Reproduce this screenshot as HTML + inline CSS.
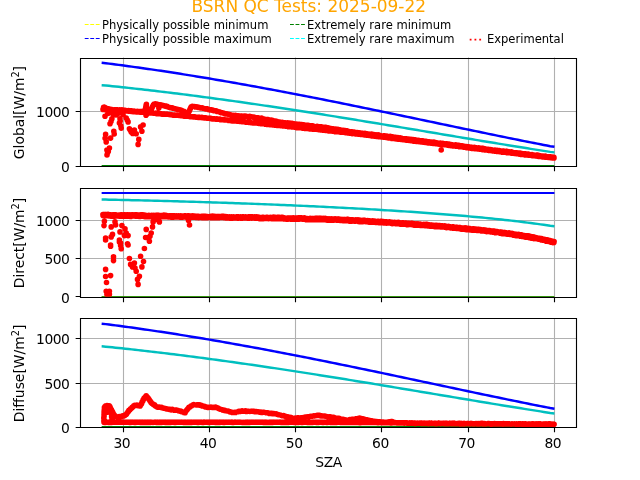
<!DOCTYPE html>
<html lang="en"><head><meta charset="utf-8"><title>BSRN QC Tests: 2025-09-22</title>
<style>html,body{margin:0;padding:0;background:#fff;overflow:hidden}svg{display:block}#w{will-change:transform;width:640px;height:480px}text{font-family:"DejaVu Sans","Liberation Sans",sans-serif}</style></head><body>
<div id="w">
<svg width="640" height="480" viewBox="0 0 640 480">
<rect width="640" height="480" fill="#fff"/>
<defs><clipPath id="c0"><rect x="80.0" y="57.60" width="496.0" height="108.71"/></clipPath><clipPath id="c1"><rect x="80.0" y="188.05" width="496.0" height="108.71"/></clipPath><clipPath id="c2"><rect x="80.0" y="318.49" width="496.0" height="108.71"/></clipPath></defs>
<path d="M123.5 57.60V166.31M209.5 57.60V166.31M295.5 57.60V166.31M381.5 57.60V166.31M468.5 57.60V166.31M554.5 57.60V166.31M80.0 166.5H576.0M80.0 111.5H576.0" stroke="#b0b0b0" stroke-width="1.111" fill="none"/>
<g clip-path="url(#c0)" fill="none" stroke-width="2.450" stroke-linecap="butt">
<path d="M101.64 167.00L554.45 167.00" stroke="#bfbf00" stroke-width="2.083"/>
<path d="M101.64 62.81L105.79 63.22L109.03 63.63L112.27 64.04L115.52 64.46L118.76 64.89L122.01 65.32L125.25 65.76L128.49 66.19L131.74 66.64L134.98 67.09L138.23 67.54L141.47 68.00L144.71 68.46L147.96 68.93L151.20 69.40L154.45 69.87L157.69 70.35L160.93 70.83L164.18 71.32L167.42 71.81L170.67 72.31L173.91 72.81L177.15 73.31L180.40 73.82L183.64 74.34L186.89 74.85L190.13 75.37L193.37 75.90L196.62 76.42L199.86 76.96L203.11 77.49L206.35 78.03L209.59 78.57L212.84 79.12L216.08 79.67L219.33 80.22L222.57 80.78L225.81 81.34L229.06 81.91L232.30 82.47L235.54 83.04L238.79 83.62L242.03 84.20L245.28 84.78L248.52 85.36L251.76 85.95L255.01 86.54L258.25 87.13L261.50 87.73L264.74 88.33L267.98 88.93L271.23 89.53L274.47 90.14L277.72 90.75L280.96 91.37L284.20 91.98L287.45 92.60L290.69 93.22L293.94 93.85L297.18 94.47L300.42 95.10L303.67 95.73L306.91 96.37L310.16 97.00L313.40 97.64L316.64 98.28L319.89 98.92L323.13 99.57L326.38 100.21L329.62 100.86L332.86 101.51L336.11 102.16L339.35 102.82L342.60 103.47L345.84 104.13L349.08 104.79L352.33 105.45L355.57 106.11L358.81 106.78L362.06 107.44L365.30 108.11L368.55 108.78L371.79 109.45L375.03 110.12L378.28 110.79L381.52 111.46L384.77 112.14L388.01 112.81L391.25 113.49L394.50 114.16L397.74 114.84L400.99 115.52L404.23 116.20L407.47 116.87L410.72 117.55L413.96 118.23L417.21 118.91L420.45 119.60L423.69 120.28L426.94 120.96L430.18 121.64L433.43 122.32L436.67 123.00L439.91 123.68L443.16 124.36L446.40 125.04L449.65 125.72L452.89 126.40L456.13 127.08L459.38 127.76L462.62 128.44L465.87 129.12L469.11 129.80L472.35 130.47L475.60 131.15L478.84 131.82L482.09 132.49L485.33 133.17L488.57 133.84L491.82 134.51L495.06 135.17L498.30 135.84L501.55 136.50L504.79 137.17L508.04 137.83L511.28 138.49L514.52 139.14L517.77 139.80L521.01 140.45L524.26 141.10L527.50 141.75L530.74 142.39L533.99 143.03L537.23 143.67L540.48 144.31L543.72 144.94L546.96 145.57L550.21 146.19L554.45 146.82" stroke="#0000ff"/>
<path d="M101.64 166.00L554.45 166.00" stroke="#008000" stroke-width="2.083"/>
<path d="M101.64 85.18L105.79 85.50L109.03 85.83L112.27 86.17L115.52 86.50L118.76 86.84L122.01 87.19L125.25 87.53L128.49 87.89L131.74 88.24L134.98 88.60L138.23 88.96L141.47 89.33L144.71 89.70L147.96 90.07L151.20 90.45L154.45 90.83L157.69 91.21L160.93 91.60L164.18 91.99L167.42 92.38L170.67 92.78L173.91 93.18L177.15 93.58L180.40 93.99L183.64 94.40L186.89 94.81L190.13 95.23L193.37 95.65L196.62 96.07L199.86 96.49L203.11 96.92L206.35 97.35L209.59 97.79L212.84 98.23L216.08 98.67L219.33 99.11L222.57 99.56L225.81 100.00L229.06 100.46L232.30 100.91L235.54 101.37L238.79 101.83L242.03 102.29L245.28 102.75L248.52 103.22L251.76 103.69L255.01 104.16L258.25 104.64L261.50 105.11L264.74 105.59L267.98 106.07L271.23 106.56L274.47 107.04L277.72 107.53L280.96 108.02L284.20 108.52L287.45 109.01L290.69 109.51L293.94 110.01L297.18 110.51L300.42 111.01L303.67 111.52L306.91 112.02L310.16 112.53L313.40 113.04L316.64 113.56L319.89 114.07L323.13 114.58L326.38 115.10L329.62 115.62L332.86 116.14L336.11 116.66L339.35 117.19L342.60 117.71L345.84 118.24L349.08 118.76L352.33 119.29L355.57 119.82L358.81 120.35L362.06 120.89L365.30 121.42L368.55 121.95L371.79 122.49L375.03 123.03L378.28 123.56L381.52 124.10L384.77 124.64L388.01 125.18L391.25 125.72L394.50 126.26L397.74 126.80L400.99 127.34L404.23 127.89L407.47 128.43L410.72 128.97L413.96 129.52L417.21 130.06L420.45 130.61L423.69 131.15L426.94 131.70L430.18 132.24L433.43 132.79L436.67 133.33L439.91 133.88L443.16 134.42L446.40 134.97L449.65 135.51L452.89 136.05L456.13 136.60L459.38 137.14L462.62 137.68L465.87 138.23L469.11 138.77L472.35 139.31L475.60 139.85L478.84 140.39L482.09 140.93L485.33 141.46L488.57 142.00L491.82 142.54L495.06 143.07L498.30 143.60L501.55 144.13L504.79 144.66L508.04 145.19L511.28 145.72L514.52 146.25L517.77 146.77L521.01 147.29L524.26 147.81L527.50 148.33L530.74 148.84L533.99 149.36L537.23 149.87L540.48 150.38L543.72 150.88L546.96 151.39L550.21 151.89L554.45 152.38" stroke="#00bfbf"/>
<path d="M103.6 107.3h.01M104.7 107.4h.01M105.7 108.1h.01M106.6 108.2h.01M107.7 108.7h.01M108.7 108.8h.01M109.9 109.0h.01M111.1 109.4h.01M112.0 109.5h.01M113.1 109.8h.01M114.3 109.8h.01M115.4 109.7h.01M116.4 109.9h.01M117.5 109.9h.01M118.6 110.1h.01M119.8 109.9h.01M120.7 110.1h.01M121.9 109.9h.01M122.9 110.3h.01M124.0 110.2h.01M125.1 110.2h.01M126.3 110.5h.01M127.3 110.8h.01M128.5 110.5h.01M129.6 110.7h.01M130.7 110.9h.01M131.6 110.9h.01M132.9 111.2h.01M134.0 111.1h.01M135.1 111.2h.01M136.1 111.5h.01M137.3 111.4h.01M138.3 111.6h.01M139.4 111.5h.01M140.7 111.5h.01M141.6 111.5h.01M142.7 111.8h.01M143.8 111.0h.01M144.7 110.7h.01M145.3 109.9h.01M145.5 108.8h.01M145.7 107.7h.01M145.8 106.9h.01M146.1 105.4h.01M146.4 104.2h.01M146.2 105.1h.01M146.4 106.1h.01M146.3 107.6h.01M146.3 108.7h.01M146.5 109.5h.01M146.3 110.5h.01M146.1 111.8h.01M146.2 113.2h.01M146.1 113.6h.01M146.0 115.2h.01M146.2 115.0h.01M146.3 114.2h.01M146.6 112.8h.01M146.8 111.9h.01M146.9 110.6h.01M147.7 110.1h.01M148.7 110.1h.01M149.8 109.7h.01M150.8 109.3h.01M151.6 108.7h.01M152.1 107.5h.01M152.5 106.7h.01M153.0 105.8h.01M153.5 104.9h.01M154.2 104.0h.01M155.3 103.7h.01M156.1 104.1h.01M157.4 104.2h.01M158.5 104.6h.01M159.6 105.0h.01M160.7 104.9h.01M161.7 105.1h.01M162.7 105.4h.01M163.8 105.6h.01M165.0 105.9h.01M165.9 106.3h.01M167.0 106.4h.01M168.1 107.0h.01M169.1 107.2h.01M170.2 107.6h.01M171.2 107.8h.01M172.3 107.9h.01M173.3 108.2h.01M174.5 108.5h.01M175.6 108.8h.01M176.6 109.1h.01M177.7 109.4h.01M178.7 109.5h.01M179.9 110.0h.01M180.8 110.1h.01M181.9 110.6h.01M182.8 111.1h.01M183.9 111.2h.01M184.8 112.0h.01M185.7 112.5h.01M186.8 112.9h.01M187.8 113.4h.01M188.4 112.6h.01M189.1 111.5h.01M189.4 110.7h.01M189.9 109.6h.01M190.3 108.7h.01M190.8 107.5h.01M191.3 106.8h.01M192.3 106.4h.01M193.5 106.5h.01M194.5 106.5h.01M195.5 106.9h.01M196.7 106.7h.01M197.8 107.2h.01M198.8 107.4h.01M199.9 107.6h.01M200.9 107.9h.01M202.2 107.9h.01M203.2 108.2h.01M204.2 108.5h.01M205.3 108.7h.01M206.4 108.9h.01M207.3 108.9h.01M208.5 109.4h.01M209.7 109.7h.01M210.5 109.9h.01M211.8 110.1h.01M212.7 110.1h.01M214.0 110.7h.01M214.9 110.8h.01M216.1 110.7h.01M217.1 111.4h.01M218.1 111.5h.01M219.3 111.8h.01M220.4 112.2h.01M221.4 112.7h.01M222.4 112.8h.01M223.5 113.1h.01M224.5 113.6h.01M225.7 113.9h.01M226.7 113.9h.01M227.8 114.1h.01M228.8 114.2h.01M229.9 114.6h.01M230.9 115.1h.01M232.1 115.4h.01M233.1 115.4h.01M234.3 115.6h.01M235.3 115.4h.01M236.4 115.6h.01M237.5 115.8h.01M238.6 115.9h.01M239.7 116.1h.01M240.8 116.1h.01M241.9 116.0h.01M242.9 116.2h.01M244.0 116.1h.01M245.3 116.1h.01M246.2 116.5h.01M247.3 116.5h.01M248.5 116.7h.01M249.7 116.4h.01M250.6 116.8h.01M251.7 116.9h.01M252.8 117.1h.01M253.8 117.0h.01M255.1 117.5h.01M256.1 117.8h.01M257.2 117.9h.01M258.2 117.9h.01M259.4 118.2h.01M260.4 118.5h.01M261.5 118.1h.01M262.6 118.7h.01M263.6 119.0h.01M264.9 119.2h.01M265.9 119.5h.01M267.0 119.6h.01M268.1 119.6h.01M269.1 119.8h.01M270.2 120.1h.01M271.4 120.1h.01M272.4 120.4h.01M273.5 120.8h.01M274.5 121.2h.01M275.7 121.1h.01M276.7 121.4h.01M277.8 121.7h.01M278.8 122.1h.01M279.8 122.1h.01M281.1 122.5h.01M282.2 122.3h.01M283.2 122.5h.01M284.3 122.7h.01M285.4 122.9h.01M286.5 123.1h.01M287.6 122.9h.01M288.6 123.1h.01M289.9 123.4h.01M290.7 123.4h.01M292.0 123.4h.01M293.1 123.9h.01M294.2 123.9h.01M295.4 124.1h.01M296.4 124.0h.01M297.3 124.4h.01M298.4 124.3h.01M299.7 124.6h.01M300.6 124.5h.01M301.8 124.6h.01M302.9 124.9h.01M303.8 124.9h.01M304.9 125.2h.01M306.2 125.2h.01M307.3 125.2h.01M308.3 125.4h.01M309.4 125.5h.01M310.5 125.8h.01M311.5 125.7h.01M312.7 125.8h.01M313.7 126.2h.01M314.8 126.5h.01M316.0 126.6h.01M317.1 126.4h.01M318.2 126.5h.01M319.2 126.9h.01M320.3 126.8h.01M321.4 126.8h.01M322.5 127.1h.01M323.7 127.4h.01M324.7 127.4h.01M325.8 127.4h.01M326.9 127.6h.01M328.1 128.1h.01M329.0 128.1h.01M330.2 128.3h.01M331.2 128.6h.01M332.3 128.8h.01M333.3 128.8h.01M334.5 129.1h.01M335.7 129.1h.01M336.7 129.4h.01M337.8 129.4h.01M338.8 129.9h.01M340.0 129.9h.01M341.0 130.0h.01M342.0 130.2h.01M343.2 130.4h.01M344.1 130.8h.01M345.1 130.6h.01M346.4 130.8h.01M347.7 131.1h.01M348.6 131.7h.01M349.6 131.7h.01M350.7 131.7h.01M352.0 131.9h.01M353.0 132.3h.01M354.1 132.1h.01M355.2 132.2h.01M356.3 132.6h.01M357.4 132.6h.01M358.5 132.8h.01M359.6 132.7h.01M360.6 133.2h.01M361.8 133.3h.01M362.8 133.3h.01M364.0 133.5h.01M364.9 133.2h.01M366.1 133.7h.01M367.2 133.8h.01M368.2 134.0h.01M369.5 134.2h.01M370.6 134.2h.01M371.5 134.1h.01M372.7 134.5h.01M373.8 134.5h.01M374.6 134.7h.01M376.0 134.8h.01M377.0 135.0h.01M378.1 134.9h.01M379.1 135.5h.01M380.3 135.5h.01M381.4 135.8h.01M382.6 136.1h.01M383.6 135.9h.01M384.7 135.8h.01M385.9 136.0h.01M386.8 136.1h.01M387.9 136.4h.01M388.9 136.6h.01M390.2 136.4h.01M391.3 136.9h.01M392.4 136.8h.01M393.5 137.2h.01M394.5 137.3h.01M395.6 137.4h.01M396.7 137.6h.01M397.8 137.6h.01M398.9 137.8h.01M400.1 137.7h.01M401.1 138.1h.01M402.1 138.6h.01M403.2 138.7h.01M404.3 138.8h.01M405.5 138.8h.01M406.5 138.7h.01M407.6 139.2h.01M408.7 139.1h.01M409.7 139.3h.01M410.9 139.4h.01M412.0 139.6h.01M413.0 139.6h.01M414.1 139.8h.01M415.2 139.8h.01M416.3 140.1h.01M417.3 140.6h.01M418.5 140.4h.01M419.5 140.5h.01M420.8 140.8h.01M421.7 140.9h.01M422.9 140.8h.01M424.1 141.1h.01M425.0 141.4h.01M426.1 141.4h.01M427.3 141.5h.01M428.3 141.9h.01M429.4 141.7h.01M430.6 142.0h.01M431.8 142.0h.01M432.7 142.4h.01M433.8 142.1h.01M434.8 142.4h.01M436.0 142.6h.01M437.0 142.9h.01M438.1 143.0h.01M439.4 143.3h.01M440.3 143.0h.01M441.5 143.5h.01M442.7 143.4h.01M443.7 143.5h.01M444.8 143.9h.01M446.0 143.8h.01M446.9 143.7h.01M448.0 144.1h.01M449.0 144.1h.01M450.2 144.4h.01M451.4 144.7h.01M452.4 144.8h.01M453.4 145.1h.01M454.5 145.0h.01M455.6 144.9h.01M456.8 145.2h.01M457.8 145.3h.01M458.9 145.4h.01M460.0 145.8h.01M461.1 145.8h.01M462.2 145.7h.01M463.3 146.3h.01M464.4 146.3h.01M465.5 146.5h.01M466.7 146.6h.01M467.7 146.8h.01M468.8 146.9h.01M469.7 147.2h.01M471.0 147.2h.01M471.9 147.3h.01M473.0 147.5h.01M474.3 147.3h.01M475.4 147.7h.01M476.4 147.8h.01M477.4 148.0h.01M478.6 147.9h.01M479.6 148.5h.01M480.8 148.4h.01M482.0 148.3h.01M483.0 148.4h.01M484.0 148.8h.01M485.0 148.9h.01M486.2 149.0h.01M487.3 149.2h.01M488.3 149.3h.01M489.5 149.6h.01M490.5 149.5h.01M491.8 149.7h.01M492.9 150.0h.01M494.0 150.4h.01M494.9 150.0h.01M496.1 150.2h.01M497.1 150.3h.01M498.2 150.7h.01M499.3 150.5h.01M500.3 150.8h.01M501.4 151.0h.01M502.7 151.0h.01M503.7 151.1h.01M504.8 151.3h.01M506.0 151.2h.01M506.9 151.4h.01M508.0 151.7h.01M509.2 151.9h.01M510.3 152.0h.01M511.3 151.9h.01M512.5 152.2h.01M513.6 152.6h.01M514.5 152.7h.01M515.7 152.7h.01M516.9 152.7h.01M518.0 153.1h.01M518.9 153.0h.01M520.2 153.1h.01M521.2 153.2h.01M522.4 153.7h.01M523.4 153.7h.01M524.5 153.9h.01M525.5 153.8h.01M526.9 154.2h.01M527.7 154.1h.01M529.0 154.3h.01M529.9 154.8h.01M531.0 154.7h.01M532.0 154.6h.01M533.2 154.8h.01M534.4 155.0h.01M535.3 155.3h.01M536.6 155.1h.01M537.6 155.1h.01M538.6 155.4h.01M539.7 155.6h.01M540.8 155.7h.01M542.0 156.0h.01M543.0 156.0h.01M544.1 156.2h.01M545.2 156.1h.01M546.3 156.5h.01M547.3 156.8h.01M548.5 156.7h.01M549.7 156.8h.01M550.6 156.9h.01M551.8 157.3h.01M552.9 157.0h.01M553.9 157.2h.01M103.0 109.4h.01M104.0 109.5h.01M105.0 109.6h.01M106.0 109.6h.01M107.0 109.6h.01M108.0 109.6h.01M109.0 109.8h.01M109.9 109.8h.01M111.0 109.8h.01M112.0 109.9h.01M112.9 110.0h.01M114.0 110.0h.01M115.0 110.1h.01M115.9 110.1h.01M117.0 110.4h.01M117.9 110.5h.01M119.0 110.7h.01M120.1 110.4h.01M121.1 110.6h.01M122.0 110.8h.01M123.0 110.8h.01M124.0 110.8h.01M125.0 111.1h.01M126.1 111.0h.01M126.9 111.0h.01M128.0 111.0h.01M129.0 111.3h.01M130.0 111.3h.01M131.0 111.3h.01M131.9 111.4h.01M133.0 111.6h.01M134.0 111.7h.01M135.0 111.6h.01M136.0 111.8h.01M136.9 111.9h.01M137.9 111.7h.01M139.0 112.0h.01M140.0 112.1h.01M141.0 112.1h.01M142.0 112.0h.01M143.0 112.3h.01M143.9 112.5h.01M144.9 112.6h.01M145.9 112.3h.01M147.0 112.9h.01M147.9 112.6h.01M149.0 112.9h.01M149.9 113.0h.01M150.9 113.0h.01M152.0 113.0h.01M152.9 113.0h.01M153.9 113.3h.01M154.9 113.2h.01M156.0 113.1h.01M157.0 113.7h.01M157.9 113.6h.01M158.9 113.8h.01M160.0 113.6h.01M160.9 114.0h.01M161.9 114.1h.01M162.9 114.1h.01M163.9 114.1h.01M164.9 114.0h.01M165.9 114.2h.01M166.9 114.1h.01M167.9 114.3h.01M168.9 114.5h.01M169.9 114.5h.01M170.9 114.7h.01M171.9 114.8h.01M172.9 115.1h.01M173.9 115.1h.01M175.0 115.1h.01M175.8 115.3h.01M176.9 115.2h.01M177.9 115.3h.01M179.0 115.5h.01M180.0 115.4h.01M180.8 115.6h.01M181.8 115.6h.01M182.9 115.8h.01M183.9 116.1h.01M184.9 115.9h.01M185.8 116.1h.01M186.9 116.1h.01M187.9 116.2h.01M188.8 116.2h.01M189.9 116.6h.01M190.7 116.8h.01M191.9 116.7h.01M192.8 116.7h.01M193.9 116.9h.01M194.8 116.9h.01M195.8 117.1h.01M196.8 117.2h.01M197.8 117.3h.01M198.8 117.4h.01M199.7 117.4h.01M200.8 117.5h.01M201.8 117.4h.01M202.8 117.7h.01M203.8 117.7h.01M204.8 117.9h.01M205.8 117.9h.01M206.8 118.1h.01M207.8 118.3h.01M208.8 118.2h.01M209.8 118.3h.01M210.8 118.4h.01M211.8 118.7h.01M212.8 118.9h.01M213.7 118.9h.01M214.8 118.9h.01M215.7 119.1h.01M216.8 118.9h.01M217.7 119.3h.01M218.8 119.2h.01M219.8 119.1h.01M220.7 119.8h.01M221.8 119.8h.01M222.7 119.6h.01M223.8 119.8h.01M224.8 119.9h.01M225.7 120.0h.01M226.7 120.0h.01M227.7 120.1h.01M228.7 120.4h.01M229.7 120.4h.01M230.7 120.6h.01M231.6 120.6h.01M232.7 120.9h.01M233.6 120.7h.01M234.7 120.9h.01M235.6 120.8h.01M236.6 121.0h.01M237.7 121.3h.01M238.7 121.2h.01M239.6 121.5h.01M240.6 121.5h.01M241.6 121.5h.01M242.6 121.7h.01M243.6 121.7h.01M244.7 121.8h.01M245.6 122.1h.01M246.7 122.2h.01M247.6 122.1h.01M248.7 122.2h.01M249.6 122.4h.01M250.6 122.5h.01M251.7 122.7h.01M252.7 123.0h.01M253.6 122.9h.01M254.6 122.9h.01M255.6 123.0h.01M256.6 123.0h.01M257.6 123.1h.01M258.6 123.2h.01M259.6 123.4h.01M260.7 123.5h.01M261.5 123.7h.01M262.6 123.7h.01M263.6 123.8h.01M264.6 123.8h.01M265.5 124.2h.01M266.6 124.2h.01M267.5 124.4h.01M268.6 124.4h.01M269.7 124.6h.01M270.6 124.5h.01M271.5 124.7h.01M272.5 125.0h.01M273.5 124.7h.01M274.6 125.1h.01M275.5 125.2h.01M276.5 125.2h.01M277.6 125.4h.01M278.6 125.5h.01M279.5 125.4h.01M280.5 125.6h.01M281.4 125.6h.01M282.5 125.7h.01M283.4 125.9h.01M284.5 126.0h.01M285.5 126.1h.01M286.5 126.3h.01M287.6 126.2h.01M288.5 126.7h.01M289.4 126.7h.01M290.5 126.7h.01M291.5 126.7h.01M292.4 126.9h.01M293.4 127.0h.01M294.5 127.1h.01M295.4 127.0h.01M296.5 127.4h.01M297.3 127.7h.01M298.4 127.3h.01M299.4 127.7h.01M300.4 127.8h.01M301.4 127.8h.01M302.4 128.1h.01M303.4 127.9h.01M304.5 128.2h.01M305.3 128.4h.01M306.4 128.3h.01M307.4 128.4h.01M308.4 128.6h.01M309.4 128.6h.01M310.3 128.9h.01M311.4 128.8h.01M312.4 129.1h.01M313.4 129.0h.01M314.3 129.3h.01M315.5 129.3h.01M316.5 129.2h.01M317.3 129.5h.01M318.4 129.5h.01M319.5 129.7h.01M320.4 130.0h.01M321.4 129.8h.01M322.3 130.0h.01M323.3 130.3h.01M324.3 130.3h.01M325.3 130.5h.01M326.4 130.5h.01M327.3 130.5h.01M328.3 130.7h.01M329.2 130.9h.01M330.3 131.0h.01M331.3 131.0h.01M332.3 131.1h.01M333.3 131.2h.01M334.3 131.3h.01M335.3 131.7h.01M336.3 131.6h.01M337.3 131.6h.01M338.3 131.7h.01M339.3 132.0h.01M340.3 132.1h.01M341.2 132.1h.01M342.3 132.2h.01M343.2 132.3h.01M344.2 132.3h.01M345.2 132.4h.01M346.2 132.7h.01M347.2 132.7h.01M348.2 132.9h.01M349.3 133.1h.01M350.2 133.2h.01M351.1 133.2h.01M352.2 133.6h.01M353.1 133.5h.01M354.2 133.5h.01M355.2 133.8h.01M356.2 133.9h.01M357.1 133.9h.01M358.1 134.1h.01M359.3 134.2h.01M360.2 134.1h.01M361.2 134.4h.01M362.2 134.5h.01M363.3 134.6h.01M364.2 134.6h.01M365.1 134.9h.01M366.1 135.0h.01M367.1 135.2h.01M368.1 135.2h.01M369.1 135.5h.01M370.1 135.4h.01M371.0 135.6h.01M372.1 135.9h.01M373.1 135.8h.01M374.2 136.0h.01M375.0 136.3h.01M376.1 136.2h.01M377.0 136.4h.01M378.1 136.5h.01M379.1 136.7h.01M380.0 136.5h.01M381.0 136.8h.01M381.9 136.9h.01M383.0 137.0h.01M384.0 137.2h.01M385.0 137.3h.01M386.0 137.5h.01M387.0 137.5h.01M388.0 137.7h.01M389.0 137.9h.01M389.9 137.9h.01M391.0 138.1h.01M391.9 138.4h.01M392.9 138.4h.01M394.0 138.4h.01M394.8 138.6h.01M395.9 138.6h.01M396.9 138.9h.01M397.9 139.1h.01M398.9 139.0h.01M399.9 139.2h.01M400.9 139.5h.01M401.9 139.4h.01M402.8 139.6h.01M403.9 139.6h.01M404.8 139.8h.01M405.9 139.9h.01M406.9 140.3h.01M407.9 140.2h.01M408.9 140.3h.01M409.8 140.4h.01M410.9 140.6h.01M411.9 140.8h.01M412.9 140.8h.01M413.9 141.2h.01M414.8 141.1h.01M415.8 141.3h.01M416.9 141.4h.01M417.7 141.5h.01M418.8 141.4h.01M419.8 141.7h.01M420.8 141.8h.01M421.7 141.9h.01M422.7 141.9h.01M423.8 142.3h.01M424.8 142.3h.01M425.8 142.4h.01M426.7 142.5h.01M427.7 142.7h.01M428.7 142.9h.01M429.7 142.8h.01M430.7 143.0h.01M431.7 143.2h.01M432.8 143.3h.01M433.7 143.4h.01M434.6 143.5h.01M435.6 143.6h.01M436.6 143.8h.01M437.6 144.0h.01M438.7 143.9h.01M439.7 144.3h.01M440.6 144.4h.01M441.7 144.4h.01M442.7 144.6h.01M443.6 144.5h.01M444.6 144.6h.01M445.6 144.8h.01M446.6 145.0h.01M447.6 145.1h.01M448.7 145.2h.01M449.7 145.4h.01M450.7 145.3h.01M451.7 145.7h.01M452.6 145.7h.01M453.5 145.9h.01M454.6 146.0h.01M455.6 146.0h.01M456.5 146.2h.01M457.6 146.3h.01M458.5 146.5h.01M459.5 146.7h.01M460.6 146.8h.01M461.6 146.8h.01M462.5 147.0h.01M463.6 147.1h.01M464.6 147.3h.01M465.5 147.2h.01M466.4 147.6h.01M467.5 147.6h.01M468.5 147.7h.01M469.4 147.9h.01M470.5 148.1h.01M471.5 148.2h.01M472.4 148.4h.01M473.4 148.4h.01M474.6 148.6h.01M475.4 148.8h.01M476.4 148.7h.01M477.4 149.0h.01M478.4 149.0h.01M479.4 149.1h.01M480.5 149.2h.01M481.4 149.3h.01M482.4 149.6h.01M483.4 149.5h.01M484.4 149.8h.01M485.4 149.9h.01M486.4 150.0h.01M487.4 149.9h.01M488.5 150.2h.01M489.3 150.4h.01M490.4 150.4h.01M491.3 150.6h.01M492.3 150.5h.01M493.4 150.9h.01M494.4 150.9h.01M495.4 151.2h.01M496.3 151.0h.01M497.3 151.4h.01M498.3 151.4h.01M499.3 151.6h.01M500.3 151.6h.01M501.4 151.7h.01M502.3 152.2h.01M503.3 152.0h.01M504.3 152.1h.01M505.3 152.3h.01M506.2 152.3h.01M507.2 152.7h.01M508.2 152.8h.01M509.3 152.7h.01M510.2 152.7h.01M511.3 153.1h.01M512.3 153.2h.01M513.3 153.3h.01M514.3 153.5h.01M515.2 153.4h.01M516.2 153.6h.01M517.2 153.6h.01M518.2 153.7h.01M519.2 154.1h.01M520.2 154.0h.01M521.3 154.4h.01M522.1 154.3h.01M523.2 154.4h.01M524.1 154.6h.01M525.2 154.9h.01M526.2 154.9h.01M527.1 154.8h.01M528.2 155.1h.01M529.1 155.3h.01M530.2 155.2h.01M531.1 155.3h.01M532.1 155.6h.01M533.1 155.6h.01M534.0 155.6h.01M535.1 155.8h.01M536.1 155.9h.01M537.2 156.1h.01M538.1 156.2h.01M539.1 156.4h.01M540.0 156.5h.01M541.1 156.4h.01M542.2 156.7h.01M543.1 156.9h.01M544.0 156.9h.01M545.0 157.1h.01M546.1 157.1h.01M547.2 157.2h.01M548.1 157.5h.01M549.1 157.4h.01M550.0 157.4h.01M551.0 157.8h.01M552.1 157.7h.01M552.9 157.9h.01M554.0 157.9h.01M105.0 116.2h.01M111.9 118.8h.01M110.0 123.8h.01M113.8 131.2h.01M105.6 134.4h.01M110.6 138.1h.01M106.2 141.9h.01M109.4 148.1h.01M106.9 150.0h.01M107.5 153.1h.01M107.0 155.0h.01M120.0 118.8h.01M119.4 123.1h.01M121.2 128.1h.01M126.2 118.1h.01M128.1 121.9h.01M129.4 128.8h.01M131.2 131.9h.01M134.4 130.0h.01M136.2 133.8h.01M138.8 139.4h.01M138.1 144.4h.01M143.1 125.0h.01M140.6 126.9h.01M141.9 131.2h.01M441.2 150.0h.01M104.2 107.3h.01M104.6 107.6h.01M113.0 114.0h.01M116.0 115.0h.01M123.0 114.5h.01M118.0 113.5h.01M108.0 113.5h.01M158.8 108.1h.01M111.0 121.5h.01M120.8 125.8h.01M127.2 120.0h.01M114.2 134.0h.01M105.1 138.2h.01M108.3 151.4h.01M132.7 133.4h.01M130.3 130.2h.01M120.2 121.0h.01" stroke="#ff0000" stroke-width="5.6" stroke-linecap="round"/>
</g>
<path d="M123.5 166.5v4.86M209.5 166.5v4.86M295.5 166.5v4.86M381.5 166.5v4.86M468.5 166.5v4.86M554.5 166.5v4.86M80.5 166.5h-4.86M80.5 111.5h-4.86" stroke="#000" stroke-width="1.111" fill="none"/>
<path d="M80.5 58.5H576.5V166.5H80.5Z" stroke="#000" stroke-width="1.111" fill="none" stroke-linejoin="miter"/>
<path d="M123.5 188.05V296.75M209.5 188.05V296.75M295.5 188.05V296.75M381.5 188.05V296.75M468.5 188.05V296.75M554.5 188.05V296.75M80.0 297.5H576.0M80.0 258.5H576.0M80.0 220.5H576.0" stroke="#b0b0b0" stroke-width="1.111" fill="none"/>
<g clip-path="url(#c1)" fill="none" stroke-width="2.450" stroke-linecap="butt">
<path d="M101.64 297.00L554.45 297.00" stroke="#bfbf00" stroke-width="2.083"/>
<path d="M101.64 193.00L554.45 193.00" stroke="#0000ff" stroke-width="2.083"/>
<path d="M101.64 297.00L554.45 297.00" stroke="#008000" stroke-width="2.083"/>
<path d="M101.64 199.53L105.79 199.59L109.03 199.66L112.27 199.73L115.52 199.80L118.76 199.87L122.01 199.94L125.25 200.02L128.49 200.09L131.74 200.17L134.98 200.24L138.23 200.32L141.47 200.40L144.71 200.48L147.96 200.56L151.20 200.64L154.45 200.72L157.69 200.81L160.93 200.89L164.18 200.98L167.42 201.06L170.67 201.15L173.91 201.24L177.15 201.33L180.40 201.43L183.64 201.52L186.89 201.61L190.13 201.71L193.37 201.81L196.62 201.90L199.86 202.00L203.11 202.10L206.35 202.20L209.59 202.31L212.84 202.41L216.08 202.52L219.33 202.62L222.57 202.73L225.81 202.84L229.06 202.95L232.30 203.06L235.54 203.18L238.79 203.29L242.03 203.41L245.28 203.52L248.52 203.64L251.76 203.76L255.01 203.89L258.25 204.01L261.50 204.13L264.74 204.26L267.98 204.39L271.23 204.52L274.47 204.65L277.72 204.78L280.96 204.91L284.20 205.05L287.45 205.18L290.69 205.32L293.94 205.46L297.18 205.61L300.42 205.75L303.67 205.89L306.91 206.04L310.16 206.19L313.40 206.34L316.64 206.49L319.89 206.65L323.13 206.80L326.38 206.96L329.62 207.12L332.86 207.28L336.11 207.44L339.35 207.61L342.60 207.78L345.84 207.95L349.08 208.12L352.33 208.29L355.57 208.47L358.81 208.65L362.06 208.83L365.30 209.01L368.55 209.20L371.79 209.38L375.03 209.57L378.28 209.76L381.52 209.96L384.77 210.16L388.01 210.36L391.25 210.56L394.50 210.76L397.74 210.97L400.99 211.18L404.23 211.39L407.47 211.61L410.72 211.83L413.96 212.05L417.21 212.28L420.45 212.51L423.69 212.74L426.94 212.97L430.18 213.21L433.43 213.45L436.67 213.70L439.91 213.95L443.16 214.20L446.40 214.46L449.65 214.72L452.89 214.99L456.13 215.26L459.38 215.53L462.62 215.81L465.87 216.09L469.11 216.38L472.35 216.67L475.60 216.97L478.84 217.27L482.09 217.58L485.33 217.89L488.57 218.21L491.82 218.54L495.06 218.87L498.30 219.21L501.55 219.56L504.79 219.91L508.04 220.27L511.28 220.63L514.52 221.01L517.77 221.39L521.01 221.79L524.26 222.19L527.50 222.60L530.74 223.02L533.99 223.45L537.23 223.89L540.48 224.35L543.72 224.81L546.96 225.29L550.21 225.79L554.45 226.30" stroke="#00bfbf"/>
<path d="M102.9 214.6h.01M103.9 214.5h.01M105.0 214.5h.01M106.0 214.5h.01M106.9 214.6h.01M108.0 214.3h.01M108.8 215.0h.01M109.8 214.9h.01M110.9 214.9h.01M111.9 215.0h.01M112.8 214.9h.01M114.0 214.8h.01M114.8 214.8h.01M115.9 214.8h.01M116.9 215.1h.01M118.0 215.2h.01M118.9 215.0h.01M120.0 215.1h.01M120.9 214.9h.01M122.0 214.9h.01M122.9 215.0h.01M123.9 214.8h.01M125.0 214.8h.01M125.9 215.0h.01M126.9 214.9h.01M128.0 214.8h.01M128.9 215.0h.01M129.9 214.9h.01M130.9 215.1h.01M131.8 214.9h.01M133.0 214.9h.01M134.0 215.0h.01M134.9 214.9h.01M135.9 214.9h.01M136.9 214.9h.01M137.9 215.0h.01M138.9 215.0h.01M139.9 215.1h.01M140.8 214.7h.01M141.9 214.9h.01M142.9 214.9h.01M143.8 215.4h.01M144.8 215.4h.01M145.7 215.4h.01M146.8 215.5h.01M147.8 215.5h.01M148.8 215.3h.01M149.7 215.6h.01M150.7 215.6h.01M151.8 215.4h.01M152.7 215.5h.01M153.8 215.4h.01M154.9 215.6h.01M155.9 215.4h.01M156.9 215.4h.01M157.8 215.4h.01M158.7 215.4h.01M159.9 215.5h.01M160.8 215.5h.01M161.9 215.5h.01M162.8 215.4h.01M163.9 215.0h.01M164.9 215.5h.01M165.9 215.2h.01M166.8 215.5h.01M167.8 216.0h.01M168.7 216.0h.01M169.7 215.9h.01M170.8 215.9h.01M171.7 215.9h.01M172.8 215.9h.01M173.7 215.9h.01M174.8 215.8h.01M175.7 216.1h.01M176.7 215.9h.01M177.8 216.1h.01M178.7 215.9h.01M179.6 216.0h.01M180.7 215.9h.01M181.7 216.0h.01M182.8 216.0h.01M183.7 216.0h.01M184.8 215.9h.01M185.7 215.9h.01M186.7 216.1h.01M187.8 215.9h.01M188.8 215.9h.01M189.7 216.1h.01M190.8 216.1h.01M191.7 216.0h.01M192.7 215.9h.01M193.7 216.2h.01M194.7 216.0h.01M195.5 216.3h.01M196.6 216.4h.01M197.6 216.3h.01M198.6 216.3h.01M199.5 216.5h.01M200.7 216.5h.01M201.6 216.4h.01M202.7 216.3h.01M203.7 216.3h.01M204.6 216.4h.01M205.7 216.3h.01M206.6 216.6h.01M207.6 216.6h.01M208.6 216.8h.01M209.6 216.6h.01M210.7 216.4h.01M211.6 216.3h.01M212.6 216.0h.01M213.6 216.4h.01M214.6 216.4h.01M215.6 216.6h.01M216.6 216.5h.01M217.6 216.5h.01M218.6 216.5h.01M219.6 216.5h.01M220.6 216.6h.01M221.7 216.3h.01M222.7 216.4h.01M223.7 216.3h.01M224.6 216.6h.01M225.8 216.6h.01M226.6 216.8h.01M227.5 216.8h.01M228.5 217.0h.01M229.5 216.9h.01M230.6 217.0h.01M231.5 216.9h.01M232.6 217.0h.01M233.5 216.9h.01M234.6 217.1h.01M235.5 217.0h.01M236.6 216.9h.01M237.5 216.9h.01M238.5 216.9h.01M239.6 217.0h.01M240.6 216.9h.01M241.5 217.0h.01M242.5 216.9h.01M243.4 216.8h.01M244.5 217.1h.01M245.5 216.8h.01M246.5 217.0h.01M247.5 217.0h.01M248.5 216.8h.01M249.5 216.8h.01M250.6 216.9h.01M251.6 216.9h.01M252.4 216.8h.01M253.5 217.0h.01M254.5 216.9h.01M255.6 217.0h.01M256.5 216.9h.01M257.5 217.0h.01M258.4 217.1h.01M259.5 217.4h.01M260.4 217.5h.01M261.4 217.5h.01M262.4 217.4h.01M263.4 217.3h.01M264.3 217.5h.01M265.5 217.5h.01M266.4 217.4h.01M267.4 217.4h.01M268.5 217.5h.01M269.5 217.7h.01M270.4 217.4h.01M271.4 217.5h.01M272.5 217.5h.01M273.5 217.1h.01M274.4 217.5h.01M275.4 217.4h.01M276.4 217.6h.01M277.4 217.4h.01M278.3 217.4h.01M279.4 217.4h.01M280.4 217.5h.01M281.4 217.4h.01M282.5 217.4h.01M283.4 217.5h.01M284.3 217.9h.01M285.4 218.0h.01M286.4 218.2h.01M287.3 218.0h.01M288.3 218.0h.01M289.3 218.1h.01M290.4 218.1h.01M291.4 218.1h.01M292.3 218.1h.01M293.3 217.9h.01M294.4 218.0h.01M295.4 218.0h.01M296.4 218.0h.01M297.4 218.0h.01M298.3 217.9h.01M299.3 217.7h.01M300.3 217.9h.01M301.4 217.7h.01M302.3 218.0h.01M303.5 218.0h.01M304.3 217.7h.01M305.2 218.2h.01M306.2 218.6h.01M307.2 218.5h.01M308.1 218.7h.01M309.2 218.7h.01M310.2 218.3h.01M311.2 218.6h.01M312.2 218.5h.01M313.2 218.5h.01M314.3 218.6h.01M315.2 218.4h.01M316.2 218.4h.01M317.1 218.4h.01M318.2 218.4h.01M319.3 218.4h.01M320.1 218.3h.01M321.2 218.3h.01M322.3 218.5h.01M323.2 218.4h.01M324.3 218.5h.01M325.1 218.3h.01M326.2 218.9h.01M327.2 218.9h.01M328.1 219.0h.01M329.0 218.9h.01M330.1 219.1h.01M331.2 218.9h.01M332.2 219.0h.01M333.1 219.0h.01M334.2 219.0h.01M335.1 218.9h.01M336.1 219.1h.01M337.1 219.0h.01M338.2 219.0h.01M339.0 219.0h.01M340.1 219.5h.01M341.1 219.6h.01M341.9 219.6h.01M342.9 219.5h.01M344.0 219.6h.01M345.0 219.5h.01M345.9 219.6h.01M347.1 219.4h.01M348.0 219.2h.01M349.0 219.6h.01M350.0 219.9h.01M350.9 219.8h.01M351.9 219.9h.01M352.9 219.8h.01M353.8 220.2h.01M354.9 220.0h.01M355.9 219.8h.01M356.9 220.0h.01M357.9 219.9h.01M358.9 220.6h.01M359.8 220.3h.01M360.8 220.2h.01M361.8 220.5h.01M362.8 220.4h.01M363.9 220.4h.01M364.8 220.2h.01M365.9 220.5h.01M366.7 220.7h.01M367.7 220.6h.01M368.6 221.1h.01M369.7 220.9h.01M370.7 221.2h.01M371.8 221.0h.01M372.6 220.9h.01M373.7 221.1h.01M374.7 221.0h.01M375.6 221.2h.01M376.5 221.5h.01M377.6 221.4h.01M378.5 221.2h.01M379.6 221.7h.01M380.6 221.4h.01M381.5 221.4h.01M382.5 221.5h.01M383.4 221.5h.01M384.6 221.8h.01M385.4 221.9h.01M386.6 221.9h.01M387.5 222.0h.01M388.4 222.1h.01M389.4 221.9h.01M390.5 222.0h.01M391.5 222.2h.01M392.3 222.3h.01M393.3 222.5h.01M394.4 222.3h.01M395.4 222.6h.01M396.5 222.5h.01M397.3 222.5h.01M398.4 222.3h.01M399.2 222.6h.01M400.4 222.9h.01M401.2 223.0h.01M402.1 222.9h.01M403.2 222.9h.01M404.2 223.1h.01M405.4 223.0h.01M406.2 223.0h.01M407.1 223.6h.01M408.2 223.4h.01M409.2 223.4h.01M410.1 223.5h.01M411.2 223.4h.01M412.2 223.4h.01M413.1 223.5h.01M414.0 224.1h.01M415.0 224.1h.01M416.0 223.9h.01M417.1 224.1h.01M417.9 223.9h.01M419.1 224.0h.01M420.1 224.1h.01M420.9 224.4h.01M421.9 224.7h.01M422.9 224.5h.01M423.9 224.3h.01M424.9 224.6h.01M425.9 224.4h.01M427.0 224.4h.01M427.8 224.5h.01M428.8 225.1h.01M429.7 225.0h.01M430.8 225.0h.01M431.8 225.1h.01M432.8 225.2h.01M433.8 225.3h.01M434.7 225.6h.01M435.5 225.4h.01M436.7 225.4h.01M437.6 225.6h.01M438.7 225.5h.01M439.8 225.6h.01M440.5 226.0h.01M441.6 225.9h.01M442.5 225.9h.01M443.6 226.0h.01M444.6 225.9h.01M445.6 226.0h.01M446.4 226.3h.01M447.5 226.7h.01M448.4 226.3h.01M449.5 226.5h.01M450.5 226.7h.01M451.4 227.0h.01M452.3 226.8h.01M453.3 226.9h.01M454.3 227.0h.01M455.3 227.2h.01M456.3 227.4h.01M457.1 227.3h.01M458.3 227.6h.01M459.3 227.6h.01M460.2 227.6h.01M461.1 227.9h.01M462.2 228.0h.01M463.1 228.0h.01M464.2 228.1h.01M465.1 227.9h.01M466.1 228.5h.01M466.9 228.4h.01M468.1 228.3h.01M469.0 228.5h.01M470.0 228.5h.01M470.8 228.8h.01M471.8 229.0h.01M472.9 228.8h.01M473.8 228.9h.01M474.9 229.0h.01M475.8 229.0h.01M476.9 229.5h.01M477.8 229.3h.01M478.8 229.3h.01M479.7 229.5h.01M480.7 229.5h.01M481.6 230.0h.01M482.6 230.0h.01M483.7 229.8h.01M484.6 230.0h.01M485.5 230.1h.01M486.5 230.3h.01M487.5 230.8h.01M488.6 230.5h.01M489.7 230.5h.01M490.5 230.8h.01M491.4 231.2h.01M492.3 231.0h.01M493.3 231.1h.01M494.3 231.0h.01M495.4 231.3h.01M496.3 231.6h.01M497.3 231.6h.01M498.2 231.7h.01M499.2 232.0h.01M500.3 232.0h.01M501.1 232.0h.01M502.1 232.6h.01M503.0 232.5h.01M504.1 232.5h.01M505.0 232.5h.01M505.9 233.1h.01M506.9 233.0h.01M507.9 233.0h.01M509.0 232.8h.01M510.0 233.4h.01M510.8 233.7h.01M511.9 233.4h.01M512.8 233.8h.01M513.7 234.1h.01M514.7 234.1h.01M515.6 234.4h.01M516.6 234.3h.01M517.7 234.5h.01M518.5 234.3h.01M519.6 234.6h.01M520.5 235.0h.01M521.5 234.9h.01M522.5 235.3h.01M523.4 235.8h.01M524.4 235.5h.01M525.4 235.7h.01M526.3 235.8h.01M527.2 235.9h.01M528.3 235.9h.01M529.3 236.4h.01M530.2 236.4h.01M531.1 236.9h.01M532.0 236.9h.01M533.0 236.8h.01M533.9 237.2h.01M534.9 237.3h.01M536.0 237.5h.01M536.8 237.9h.01M537.8 238.1h.01M538.6 238.4h.01M539.7 238.4h.01M540.7 238.5h.01M541.6 238.6h.01M542.5 239.2h.01M543.6 239.4h.01M544.4 239.4h.01M545.4 239.5h.01M546.3 240.0h.01M547.4 239.9h.01M548.4 240.4h.01M549.3 240.5h.01M550.2 240.6h.01M551.1 240.9h.01M552.2 241.1h.01M552.9 241.3h.01M554.1 241.5h.01M103.0 215.6h.01M103.9 215.7h.01M105.0 215.5h.01M105.9 215.8h.01M107.1 215.5h.01M108.0 215.5h.01M109.0 216.0h.01M109.8 216.0h.01M110.9 216.1h.01M111.8 216.1h.01M112.8 216.2h.01M113.9 216.1h.01M114.9 216.1h.01M115.8 216.0h.01M117.0 215.9h.01M117.8 216.0h.01M118.9 215.9h.01M119.9 216.2h.01M120.9 216.0h.01M121.8 216.2h.01M123.0 216.1h.01M123.9 216.2h.01M124.9 216.1h.01M125.8 216.1h.01M126.8 216.1h.01M127.8 216.2h.01M128.9 216.0h.01M129.9 216.1h.01M130.8 216.4h.01M131.9 216.0h.01M133.0 216.0h.01M133.9 216.0h.01M134.9 215.9h.01M136.0 216.2h.01M136.9 216.1h.01M137.9 216.1h.01M138.9 216.3h.01M139.8 216.4h.01M140.8 215.9h.01M141.9 216.2h.01M142.9 216.1h.01M143.8 216.5h.01M144.8 216.6h.01M145.8 216.5h.01M146.8 216.7h.01M147.7 216.6h.01M148.7 216.6h.01M149.8 216.7h.01M150.7 216.7h.01M151.8 216.6h.01M152.8 216.6h.01M153.7 216.8h.01M154.7 216.6h.01M155.8 216.5h.01M156.8 216.4h.01M157.8 216.5h.01M158.8 216.4h.01M159.8 216.6h.01M160.8 216.6h.01M161.8 216.3h.01M162.9 216.6h.01M163.8 216.6h.01M164.9 216.6h.01M165.9 216.4h.01M166.9 216.7h.01M167.7 216.8h.01M168.8 216.9h.01M169.7 216.9h.01M170.7 217.0h.01M171.7 217.2h.01M172.7 217.2h.01M173.7 217.1h.01M174.7 216.9h.01M175.8 217.0h.01M176.7 216.9h.01M177.6 217.0h.01M178.8 216.8h.01M179.8 217.1h.01M180.8 217.1h.01M181.6 217.0h.01M182.8 217.1h.01M183.7 216.9h.01M184.8 216.9h.01M185.6 217.0h.01M186.7 217.2h.01M187.7 217.2h.01M188.6 217.0h.01M189.7 217.2h.01M190.8 217.0h.01M191.7 217.2h.01M192.7 217.1h.01M193.8 217.0h.01M194.8 217.1h.01M195.7 217.3h.01M196.6 217.4h.01M197.6 217.4h.01M198.7 217.6h.01M199.6 217.5h.01M200.6 217.5h.01M201.7 217.5h.01M202.7 217.7h.01M203.5 217.5h.01M204.5 217.5h.01M205.5 217.7h.01M206.6 217.7h.01M207.6 217.6h.01M208.7 217.3h.01M209.6 217.5h.01M210.6 217.6h.01M211.6 217.6h.01M212.6 217.7h.01M213.6 217.4h.01M214.6 217.6h.01M215.8 217.5h.01M216.7 217.7h.01M217.6 217.5h.01M218.6 217.7h.01M219.6 217.5h.01M220.5 217.4h.01M221.6 217.4h.01M222.6 217.5h.01M223.7 217.4h.01M224.6 217.7h.01M225.6 217.7h.01M226.5 217.9h.01M227.4 217.9h.01M228.5 218.0h.01M229.5 218.0h.01M230.6 218.2h.01M231.5 218.1h.01M232.6 218.1h.01M233.5 218.0h.01M234.5 217.8h.01M235.4 218.0h.01M236.4 217.9h.01M237.6 218.1h.01M238.6 218.1h.01M239.5 218.0h.01M240.6 218.0h.01M241.5 218.2h.01M242.5 217.9h.01M243.5 217.9h.01M244.6 218.0h.01M245.5 218.0h.01M246.5 218.0h.01M247.5 218.1h.01M248.6 218.3h.01M249.5 217.8h.01M250.5 218.0h.01M251.6 218.1h.01M252.5 218.0h.01M253.5 218.0h.01M254.6 218.0h.01M255.6 218.2h.01M256.5 218.0h.01M257.6 218.0h.01M258.4 218.3h.01M259.4 218.6h.01M260.3 218.5h.01M261.5 218.7h.01M262.3 218.5h.01M263.5 218.6h.01M264.4 218.5h.01M265.4 218.4h.01M266.4 218.5h.01M267.4 218.4h.01M268.5 218.6h.01M269.5 218.5h.01M270.5 218.4h.01M271.5 218.6h.01M272.4 218.6h.01M273.5 218.3h.01M274.4 218.8h.01M275.4 218.6h.01M276.4 218.5h.01M277.4 218.7h.01M278.4 218.6h.01M279.5 218.5h.01M280.4 218.8h.01M281.4 218.4h.01M282.5 218.5h.01M283.3 218.8h.01M284.3 218.9h.01M285.4 219.0h.01M286.2 219.1h.01M287.3 219.3h.01M288.4 218.9h.01M289.2 219.0h.01M290.5 219.1h.01M291.2 219.1h.01M292.4 218.9h.01M293.4 219.1h.01M294.4 219.1h.01M295.3 219.1h.01M296.4 219.2h.01M297.3 219.2h.01M298.4 219.1h.01M299.3 219.1h.01M300.3 218.9h.01M301.4 219.0h.01M302.3 219.1h.01M303.3 219.0h.01M304.3 219.1h.01M305.2 219.1h.01M306.3 219.7h.01M307.2 219.8h.01M308.1 219.5h.01M309.2 219.6h.01M310.2 219.5h.01M311.2 219.7h.01M312.2 219.6h.01M313.2 219.6h.01M314.3 219.5h.01M315.2 219.6h.01M316.3 219.4h.01M317.2 219.6h.01M318.3 219.5h.01M319.2 219.6h.01M320.2 219.6h.01M321.2 219.7h.01M322.3 219.5h.01M323.3 219.7h.01M324.4 219.4h.01M325.3 219.7h.01M326.1 220.0h.01M327.1 220.1h.01M328.1 220.1h.01M329.1 220.2h.01M330.2 219.8h.01M331.2 220.1h.01M332.1 219.9h.01M333.1 220.2h.01M334.2 219.8h.01M335.1 219.9h.01M336.1 219.8h.01M337.2 220.2h.01M338.1 219.9h.01M339.1 220.1h.01M340.0 220.5h.01M340.9 220.3h.01M342.1 220.5h.01M342.9 220.6h.01M344.0 220.5h.01M345.0 220.7h.01M346.1 220.5h.01M347.0 220.6h.01M348.0 220.5h.01M348.9 220.6h.01M349.9 221.2h.01M350.8 221.1h.01M351.9 221.1h.01M352.9 221.0h.01M353.9 221.0h.01M355.0 221.2h.01M355.9 220.9h.01M356.9 220.9h.01M357.9 221.0h.01M358.8 221.4h.01M359.9 221.8h.01M360.9 221.3h.01M361.7 221.6h.01M362.9 221.6h.01M363.8 221.4h.01M364.9 221.5h.01M365.8 221.6h.01M366.7 221.7h.01M367.6 221.8h.01M368.8 221.9h.01M369.7 222.2h.01M370.6 222.2h.01M371.7 222.0h.01M372.7 221.8h.01M373.6 222.2h.01M374.6 222.0h.01M375.5 222.5h.01M376.6 222.5h.01M377.6 222.5h.01M378.6 222.5h.01M379.6 222.7h.01M380.6 222.7h.01M381.5 222.3h.01M382.6 222.4h.01M383.5 223.0h.01M384.4 223.0h.01M385.4 222.9h.01M386.5 223.1h.01M387.4 223.0h.01M388.4 223.0h.01M389.4 223.0h.01M390.6 223.0h.01M391.4 223.2h.01M392.2 223.6h.01M393.4 223.5h.01M394.4 223.5h.01M395.4 223.5h.01M396.3 223.7h.01M397.4 223.6h.01M398.3 223.5h.01M399.2 223.8h.01M400.2 224.1h.01M401.2 224.2h.01M402.3 224.1h.01M403.3 224.3h.01M404.2 224.2h.01M405.3 224.0h.01M406.2 224.1h.01M407.2 224.7h.01M408.0 224.6h.01M409.0 224.5h.01M410.2 224.4h.01M411.0 224.3h.01M412.1 224.6h.01M413.1 224.7h.01M414.0 225.1h.01M415.0 224.9h.01M416.1 225.2h.01M416.9 225.0h.01M418.1 225.1h.01M419.2 225.1h.01M420.0 225.0h.01M420.9 225.4h.01M421.9 225.3h.01M423.0 225.4h.01M423.8 225.3h.01M424.9 225.6h.01M425.9 225.6h.01M426.9 225.7h.01M427.8 226.0h.01M428.8 226.0h.01M429.8 226.1h.01M430.8 226.0h.01M431.8 226.1h.01M432.8 226.1h.01M433.7 226.3h.01M434.7 226.6h.01M435.6 226.6h.01M436.8 226.5h.01M437.7 226.7h.01M438.6 226.8h.01M439.7 226.8h.01M440.5 227.0h.01M441.6 226.8h.01M442.6 227.0h.01M443.6 227.0h.01M444.6 226.8h.01M445.5 227.3h.01M446.5 227.6h.01M447.6 227.5h.01M448.3 227.5h.01M449.5 227.4h.01M450.4 227.8h.01M451.3 227.9h.01M452.3 228.0h.01M453.5 228.3h.01M454.3 228.1h.01M455.4 228.3h.01M456.3 228.5h.01M457.2 228.4h.01M458.3 228.5h.01M459.3 228.6h.01M460.3 228.5h.01M461.1 229.1h.01M462.1 229.2h.01M463.1 229.2h.01M464.2 228.9h.01M465.1 229.0h.01M465.9 229.4h.01M467.0 229.7h.01M468.0 229.6h.01M469.0 229.6h.01M470.0 229.4h.01M470.8 229.9h.01M471.9 230.1h.01M472.9 230.1h.01M473.9 229.9h.01M474.9 230.1h.01M476.0 230.1h.01M476.8 230.5h.01M478.0 230.4h.01M478.8 230.3h.01M479.8 230.5h.01M480.7 230.6h.01M481.5 230.9h.01M482.6 231.0h.01M483.7 231.0h.01M484.8 231.1h.01M485.5 231.3h.01M486.7 231.6h.01M487.5 231.4h.01M488.6 231.5h.01M489.4 231.6h.01M490.5 231.7h.01M491.4 231.9h.01M492.5 232.0h.01M493.4 232.2h.01M494.3 232.3h.01M495.4 232.7h.01M496.4 232.5h.01M497.3 232.5h.01M498.3 232.5h.01M499.3 233.0h.01M500.2 233.2h.01M501.1 233.2h.01M502.0 233.6h.01M503.2 233.6h.01M504.1 233.5h.01M505.1 233.6h.01M505.9 234.0h.01M507.0 234.1h.01M508.0 234.1h.01M508.9 234.1h.01M509.8 234.5h.01M511.0 234.5h.01M511.9 234.5h.01M512.7 234.8h.01M513.7 235.2h.01M514.7 234.8h.01M515.7 235.4h.01M516.7 235.8h.01M517.6 235.5h.01M518.6 235.4h.01M519.5 235.8h.01M520.4 236.2h.01M521.6 236.0h.01M522.5 236.4h.01M523.5 236.6h.01M524.3 236.5h.01M525.3 237.1h.01M526.3 237.1h.01M527.3 237.0h.01M528.2 237.1h.01M529.1 237.6h.01M530.1 237.7h.01M531.1 238.1h.01M532.0 238.1h.01M533.1 237.9h.01M534.0 238.6h.01M534.9 238.5h.01M535.9 238.5h.01M536.8 238.8h.01M537.8 239.0h.01M538.8 239.3h.01M539.7 239.5h.01M540.7 239.4h.01M541.6 239.9h.01M542.5 240.1h.01M543.5 240.2h.01M544.5 240.5h.01M545.4 240.7h.01M546.4 241.2h.01M547.3 240.9h.01M548.3 241.5h.01M549.3 241.4h.01M550.3 241.6h.01M551.1 242.2h.01M552.1 242.0h.01M553.0 242.6h.01M553.9 242.4h.01M104.4 221.2h.01M104.0 225.6h.01M115.0 221.9h.01M111.2 226.9h.01M115.6 225.0h.01M121.9 225.6h.01M125.0 228.8h.01M120.0 231.9h.01M126.2 233.1h.01M124.4 235.6h.01M128.1 235.6h.01M112.5 234.4h.01M111.2 236.9h.01M105.6 238.1h.01M119.4 240.0h.01M120.6 243.1h.01M127.5 243.8h.01M110.6 245.0h.01M153.1 221.9h.01M159.4 221.9h.01M156.2 219.4h.01M152.5 226.9h.01M146.2 229.4h.01M151.2 233.1h.01M145.6 237.5h.01M150.0 236.2h.01M149.4 241.2h.01M105.6 240.0h.01M110.6 246.2h.01M119.4 241.9h.01M120.6 245.6h.01M121.2 248.8h.01M128.1 245.0h.01M144.4 248.5h.01M113.5 256.9h.01M113.5 260.6h.01M129.4 258.5h.01M140.6 256.2h.01M143.5 261.5h.01M130.6 264.4h.01M134.4 263.1h.01M132.5 266.9h.01M135.0 268.1h.01M136.2 271.2h.01M141.9 266.9h.01M139.4 276.2h.01M137.5 279.4h.01M138.1 284.4h.01M105.6 269.4h.01M105.6 276.5h.01M110.6 275.6h.01M106.5 282.5h.01M106.2 291.2h.01M109.4 291.2h.01M106.9 294.4h.01M109.4 294.4h.01M189.5 225.0h.01M188.5 220.5h.01M103.8 215.0h.01" stroke="#ff0000" stroke-width="5.6" stroke-linecap="round"/>
</g>
<path d="M123.5 297.5v4.86M209.5 297.5v4.86M295.5 297.5v4.86M381.5 297.5v4.86M468.5 297.5v4.86M554.5 297.5v4.86M80.5 296.5h-4.86M80.5 258.5h-4.86M80.5 220.5h-4.86" stroke="#000" stroke-width="1.111" fill="none"/>
<path d="M80.5 188.5H576.5V297.5H80.5Z" stroke="#000" stroke-width="1.111" fill="none" stroke-linejoin="miter"/>
<path d="M123.5 318.49V427.20M209.5 318.49V427.20M295.5 318.49V427.20M381.5 318.49V427.20M468.5 318.49V427.20M554.5 318.49V427.20M80.0 427.5H576.0M80.0 383.5H576.0M80.0 338.5H576.0" stroke="#b0b0b0" stroke-width="1.111" fill="none"/>
<g clip-path="url(#c2)" fill="none" stroke-width="2.450" stroke-linecap="butt">
<path d="M101.64 428.00L554.45 428.00" stroke="#bfbf00" stroke-width="2.083"/>
<path d="M101.64 323.71L105.79 324.12L109.03 324.54L112.27 324.96L115.52 325.38L118.76 325.81L122.01 326.25L125.25 326.69L128.49 327.13L131.74 327.58L134.98 328.04L138.23 328.49L141.47 328.96L144.71 329.42L147.96 329.90L151.20 330.37L154.45 330.85L157.69 331.34L160.93 331.83L164.18 332.32L167.42 332.82L170.67 333.32L173.91 333.82L177.15 334.33L180.40 334.85L183.64 335.37L186.89 335.89L190.13 336.42L193.37 336.95L196.62 337.48L199.86 338.02L203.11 338.56L206.35 339.10L209.59 339.65L212.84 340.21L216.08 340.76L219.33 341.32L222.57 341.89L225.81 342.45L229.06 343.02L232.30 343.60L235.54 344.18L238.79 344.76L242.03 345.34L245.28 345.93L248.52 346.52L251.76 347.11L255.01 347.71L258.25 348.31L261.50 348.91L264.74 349.52L267.98 350.13L271.23 350.74L274.47 351.35L277.72 351.97L280.96 352.59L284.20 353.22L287.45 353.84L290.69 354.47L293.94 355.10L297.18 355.73L300.42 356.37L303.67 357.01L306.91 357.65L310.16 358.29L313.40 358.94L316.64 359.59L319.89 360.23L323.13 360.89L326.38 361.54L329.62 362.20L332.86 362.85L336.11 363.51L339.35 364.18L342.60 364.84L345.84 365.50L349.08 366.17L352.33 366.84L355.57 367.51L358.81 368.18L362.06 368.85L365.30 369.53L368.55 370.20L371.79 370.88L375.03 371.56L378.28 372.24L381.52 372.92L384.77 373.60L388.01 374.28L391.25 374.96L394.50 375.65L397.74 376.33L400.99 377.02L404.23 377.70L407.47 378.39L410.72 379.08L413.96 379.77L417.21 380.45L420.45 381.14L423.69 381.83L426.94 382.52L430.18 383.21L433.43 383.90L436.67 384.59L439.91 385.28L443.16 385.96L446.40 386.65L449.65 387.34L452.89 388.03L456.13 388.72L459.38 389.40L462.62 390.09L465.87 390.78L469.11 391.46L472.35 392.14L475.60 392.83L478.84 393.51L482.09 394.19L485.33 394.87L488.57 395.55L491.82 396.22L495.06 396.90L498.30 397.57L501.55 398.24L504.79 398.91L508.04 399.58L511.28 400.25L514.52 400.91L517.77 401.57L521.01 402.23L524.26 402.89L527.50 403.55L530.74 404.20L533.99 404.85L537.23 405.49L540.48 406.14L543.72 406.78L546.96 407.41L550.21 408.04L554.45 408.67" stroke="#0000ff"/>
<path d="M101.64 427.00L554.45 427.00" stroke="#008000" stroke-width="2.083"/>
<path d="M101.64 346.34L105.79 346.66L109.03 346.99L112.27 347.32L115.52 347.66L118.76 348.00L122.01 348.34L125.25 348.69L128.49 349.04L131.74 349.40L134.98 349.75L138.23 350.12L141.47 350.48L144.71 350.85L147.96 351.22L151.20 351.60L154.45 351.98L157.69 352.36L160.93 352.75L164.18 353.14L167.42 353.53L170.67 353.93L173.91 354.32L177.15 354.73L180.40 355.13L183.64 355.54L186.89 355.95L190.13 356.37L193.37 356.79L196.62 357.21L199.86 357.63L203.11 358.06L206.35 358.49L209.59 358.93L212.84 359.36L216.08 359.80L219.33 360.24L222.57 360.69L225.81 361.14L229.06 361.59L232.30 362.04L235.54 362.50L238.79 362.95L242.03 363.42L245.28 363.88L248.52 364.35L251.76 364.81L255.01 365.29L258.25 365.76L261.50 366.24L264.74 366.71L267.98 367.20L271.23 367.68L274.47 368.16L277.72 368.65L280.96 369.14L284.20 369.63L287.45 370.13L290.69 370.62L293.94 371.12L297.18 371.62L300.42 372.12L303.67 372.63L306.91 373.13L310.16 373.64L313.40 374.15L316.64 374.66L319.89 375.17L323.13 375.69L326.38 376.21L329.62 376.72L332.86 377.24L336.11 377.76L339.35 378.29L342.60 378.81L345.84 379.33L349.08 379.86L352.33 380.39L355.57 380.92L358.81 381.45L362.06 381.98L365.30 382.51L368.55 383.04L371.79 383.58L375.03 384.11L378.28 384.65L381.52 385.19L384.77 385.72L388.01 386.26L391.25 386.80L394.50 387.34L397.74 387.88L400.99 388.42L404.23 388.97L407.47 389.51L410.72 390.05L413.96 390.59L417.21 391.14L420.45 391.68L423.69 392.22L426.94 392.77L430.18 393.31L433.43 393.86L436.67 394.40L439.91 394.94L443.16 395.49L446.40 396.03L449.65 396.57L452.89 397.12L456.13 397.66L459.38 398.20L462.62 398.74L465.87 399.29L469.11 399.83L472.35 400.37L475.60 400.90L478.84 401.44L482.09 401.98L485.33 402.52L488.57 403.05L491.82 403.59L495.06 404.12L498.30 404.65L501.55 405.18L504.79 405.71L508.04 406.24L511.28 406.76L514.52 407.29L517.77 407.81L521.01 408.33L524.26 408.85L527.50 409.37L530.74 409.88L533.99 410.39L537.23 410.90L540.48 411.41L543.72 411.92L546.96 412.42L550.21 412.92L554.45 413.42" stroke="#00bfbf"/>
<path d="M106.6 408.5h.01M106.8 410.5h.01M107.0 412.2h.01M103.9 421.6h.01M103.9 420.7h.01M104.0 419.7h.01M103.8 418.1h.01M103.9 417.3h.01M104.1 416.1h.01M104.0 414.9h.01M104.1 413.9h.01M104.1 412.9h.01M104.1 411.9h.01M104.2 410.5h.01M104.3 409.7h.01M104.4 408.8h.01M104.4 407.5h.01M105.0 406.6h.01M105.8 405.9h.01M107.0 405.5h.01M108.1 405.8h.01M109.2 405.9h.01M109.8 406.6h.01M110.3 407.9h.01M110.5 408.6h.01M111.3 409.6h.01M111.6 410.7h.01M112.2 411.3h.01M112.7 412.3h.01M113.1 413.4h.01M113.7 414.3h.01M114.5 415.3h.01M115.3 416.0h.01M116.1 416.8h.01M117.1 417.1h.01M118.4 416.9h.01M119.3 416.6h.01M120.6 416.6h.01M121.6 416.4h.01M122.6 415.9h.01M123.8 415.9h.01M124.8 415.5h.01M125.4 414.7h.01M126.4 414.2h.01M127.0 413.3h.01M127.9 412.1h.01M128.4 411.4h.01M129.0 410.4h.01M129.9 409.8h.01M130.6 408.7h.01M131.4 408.2h.01M132.2 407.4h.01M133.0 406.8h.01M133.8 405.9h.01M134.7 405.2h.01M135.8 405.5h.01M136.9 405.1h.01M138.0 405.6h.01M138.9 405.7h.01M140.1 405.9h.01M140.6 405.1h.01M141.4 403.9h.01M141.8 403.1h.01M142.2 401.7h.01M142.8 401.1h.01M143.2 399.9h.01M143.7 399.0h.01M144.2 398.1h.01M145.1 397.2h.01M145.7 396.5h.01M146.2 395.9h.01M147.1 397.0h.01M147.9 397.7h.01M148.5 398.8h.01M149.1 399.5h.01M149.7 400.5h.01M150.3 401.3h.01M151.0 402.4h.01M151.8 403.2h.01M152.6 403.7h.01M153.4 404.4h.01M154.5 404.9h.01M155.2 405.8h.01M156.2 406.5h.01M157.1 406.9h.01M158.2 407.3h.01M159.3 407.0h.01M160.4 407.2h.01M161.5 407.4h.01M162.4 407.7h.01M163.5 408.1h.01M164.7 408.3h.01M165.8 408.6h.01M166.9 408.9h.01M168.0 409.0h.01M168.9 409.2h.01M170.0 409.4h.01M171.2 410.0h.01M172.2 409.4h.01M173.3 409.8h.01M174.3 410.2h.01M175.6 410.1h.01M176.5 410.0h.01M177.7 410.3h.01M178.6 410.7h.01M179.8 411.1h.01M180.7 411.1h.01M181.9 411.7h.01M182.8 412.0h.01M183.9 412.4h.01M185.1 412.8h.01M185.6 411.6h.01M186.3 410.6h.01M186.9 410.0h.01M187.4 409.3h.01M188.3 408.2h.01M189.0 407.3h.01M189.8 407.1h.01M190.9 406.0h.01M191.7 405.8h.01M192.7 405.0h.01M193.7 404.6h.01M194.8 404.7h.01M196.1 405.0h.01M196.9 404.7h.01M198.2 404.9h.01M199.3 404.8h.01M200.1 405.3h.01M201.2 405.4h.01M202.4 405.9h.01M203.4 406.0h.01M204.5 406.4h.01M205.7 406.9h.01M206.6 407.1h.01M207.6 407.5h.01M208.6 407.5h.01M209.9 407.3h.01M210.9 407.1h.01M212.1 407.5h.01M213.2 407.4h.01M214.2 407.5h.01M215.5 407.1h.01M216.5 407.5h.01M217.5 407.8h.01M218.4 408.3h.01M219.5 409.0h.01M220.6 409.2h.01M221.6 409.5h.01M222.6 409.9h.01M223.8 410.3h.01M224.8 410.4h.01M225.9 410.8h.01M226.9 411.0h.01M228.1 411.0h.01M229.1 411.5h.01M229.9 412.0h.01M231.2 412.1h.01M232.3 412.4h.01M233.4 412.5h.01M234.4 412.3h.01M235.5 412.4h.01M236.6 412.0h.01M237.8 411.7h.01M238.8 411.2h.01M239.8 411.4h.01M240.9 411.1h.01M242.1 410.9h.01M243.1 411.2h.01M244.1 411.3h.01M245.4 410.9h.01M246.4 411.4h.01M247.6 411.3h.01M248.7 411.2h.01M249.8 411.5h.01M250.9 411.2h.01M251.9 411.3h.01M253.0 411.3h.01M254.1 411.4h.01M255.4 411.8h.01M256.4 411.6h.01M257.6 411.7h.01M258.5 411.8h.01M259.5 412.1h.01M260.8 412.1h.01M261.8 412.4h.01M262.9 412.3h.01M264.0 412.3h.01M265.2 412.5h.01M266.3 412.8h.01M267.2 412.7h.01M268.5 413.1h.01M269.5 413.4h.01M270.6 413.2h.01M271.8 413.4h.01M272.8 413.8h.01M273.8 413.6h.01M274.8 413.7h.01M276.1 413.8h.01M277.2 414.3h.01M278.2 414.6h.01M279.2 414.7h.01M280.3 415.0h.01M281.3 415.5h.01M282.5 415.7h.01M283.6 415.6h.01M284.7 416.1h.01M285.6 416.4h.01M286.8 416.8h.01M287.8 416.9h.01M288.8 417.1h.01M289.9 417.4h.01M291.2 417.5h.01M292.1 418.0h.01M293.2 418.2h.01M294.2 418.3h.01M295.3 418.0h.01M296.3 418.0h.01M297.5 417.9h.01M298.7 417.8h.01M299.9 418.0h.01M300.9 417.7h.01M302.0 417.8h.01M303.0 417.5h.01M304.1 417.4h.01M305.2 417.0h.01M306.3 417.0h.01M307.3 416.8h.01M308.5 416.8h.01M309.5 416.5h.01M310.5 416.3h.01M311.6 416.3h.01M312.7 416.0h.01M313.8 415.9h.01M315.1 415.8h.01M316.1 415.5h.01M317.2 415.3h.01M318.4 415.4h.01M319.5 415.4h.01M320.4 415.7h.01M321.6 415.9h.01M322.7 416.0h.01M323.7 416.0h.01M324.9 416.0h.01M325.8 416.3h.01M326.9 416.5h.01M328.1 416.8h.01M329.2 416.8h.01M330.2 416.9h.01M331.4 417.2h.01M332.5 417.2h.01M333.7 417.4h.01M334.7 417.9h.01M335.8 418.1h.01M336.8 418.2h.01M337.8 418.4h.01M339.0 418.4h.01M340.0 418.8h.01M341.1 419.0h.01M342.3 419.2h.01M343.2 419.4h.01M344.3 419.6h.01M345.5 419.8h.01M346.6 420.1h.01M347.6 420.3h.01M348.8 420.0h.01M349.7 419.5h.01M350.8 419.5h.01M351.9 419.2h.01M353.0 419.2h.01M354.3 419.2h.01M355.1 419.1h.01M356.4 418.7h.01M357.3 418.7h.01M358.5 418.4h.01M359.6 418.1h.01M360.7 418.2h.01M361.8 418.5h.01M362.7 419.1h.01M363.9 419.0h.01M364.9 419.6h.01M366.2 419.8h.01M367.1 419.8h.01M368.2 420.1h.01M369.2 420.3h.01M370.3 420.6h.01M371.3 420.9h.01M372.6 421.0h.01M373.6 421.3h.01M374.7 421.4h.01M375.7 421.5h.01M376.8 421.6h.01M378.1 421.7h.01M379.0 421.9h.01M380.0 421.8h.01M381.3 422.2h.01M382.3 422.2h.01M383.4 422.1h.01M384.6 422.7h.01M385.6 422.3h.01M386.8 422.3h.01M387.8 422.4h.01M389.0 421.9h.01M390.1 421.9h.01M391.1 421.6h.01M392.2 421.6h.01M393.2 422.0h.01M394.3 422.3h.01M395.5 422.7h.01M396.4 422.8h.01M397.6 422.9h.01M398.6 422.8h.01M399.7 422.7h.01M400.7 423.0h.01M402.1 422.8h.01M403.1 422.8h.01M404.2 423.1h.01M405.2 423.0h.01M406.5 423.0h.01M407.3 423.1h.01M408.6 423.1h.01M409.8 422.8h.01M410.8 423.0h.01M411.9 422.9h.01M413.0 423.1h.01M414.0 423.0h.01M415.2 423.4h.01M416.4 423.3h.01M417.4 423.1h.01M418.5 423.2h.01M419.6 423.1h.01M420.7 423.3h.01M421.8 423.4h.01M423.0 423.4h.01M424.1 423.1h.01M425.1 423.3h.01M426.0 423.5h.01M427.4 423.5h.01M428.5 423.6h.01M429.4 423.2h.01M430.5 423.5h.01M431.6 423.3h.01M432.9 423.5h.01M433.8 423.5h.01M435.0 423.6h.01M436.1 423.4h.01M437.3 423.5h.01M438.3 423.3h.01M439.4 423.3h.01M440.5 423.6h.01M441.8 423.5h.01M442.8 423.3h.01M443.8 423.4h.01M444.8 423.5h.01M446.0 423.8h.01M447.2 423.7h.01M448.2 423.7h.01M449.4 423.3h.01M450.5 423.5h.01M451.6 423.6h.01M452.7 423.6h.01M453.8 423.6h.01M454.8 423.5h.01M455.9 423.8h.01M457.2 423.8h.01M458.1 423.6h.01M459.2 423.5h.01M460.4 423.9h.01M461.4 423.5h.01M462.5 423.8h.01M463.6 423.9h.01M464.8 423.5h.01M465.9 423.7h.01M467.1 423.6h.01M468.1 423.7h.01M469.2 423.7h.01M470.2 424.0h.01M471.4 423.8h.01M472.4 423.7h.01M473.6 423.9h.01M474.7 423.7h.01M475.9 423.7h.01M476.8 424.0h.01M478.1 423.6h.01M479.1 423.7h.01M480.1 423.7h.01M481.3 423.6h.01M482.3 423.4h.01M483.5 423.9h.01M484.6 423.6h.01M485.7 423.7h.01M486.8 423.7h.01M487.9 423.6h.01M489.0 423.6h.01M490.0 423.8h.01M491.2 424.2h.01M492.2 423.9h.01M493.4 423.9h.01M494.5 423.6h.01M495.6 423.8h.01M496.6 423.7h.01M497.7 424.0h.01M498.9 423.8h.01M500.1 423.9h.01M501.1 423.8h.01M502.3 423.8h.01M503.4 423.6h.01M504.5 424.0h.01M505.5 423.7h.01M506.6 423.7h.01M507.7 423.9h.01M508.8 423.8h.01M510.0 424.0h.01M511.1 424.1h.01M512.1 424.0h.01M513.2 424.0h.01M514.4 423.9h.01M515.5 424.1h.01M516.6 423.7h.01M517.7 424.0h.01M518.7 423.8h.01M519.8 423.8h.01M521.0 424.0h.01M522.1 423.9h.01M523.1 424.1h.01M524.2 424.2h.01M525.5 423.7h.01M526.4 424.0h.01M527.5 424.3h.01M528.7 424.2h.01M529.7 424.3h.01M530.9 424.1h.01M532.1 423.8h.01M533.1 423.9h.01M534.2 424.2h.01M535.3 424.2h.01M536.4 424.0h.01M537.5 424.0h.01M538.6 424.1h.01M539.6 423.8h.01M540.8 424.1h.01M541.9 424.4h.01M543.0 424.5h.01M544.1 424.1h.01M545.0 424.4h.01M546.4 424.1h.01M547.6 424.0h.01M548.6 423.8h.01M549.6 424.3h.01M550.6 424.1h.01M551.8 424.5h.01M552.8 424.2h.01M554.1 424.2h.01M110.4 408.2h.01M111.0 409.3h.01M111.0 411.0h.01M111.2 411.8h.01M111.0 412.9h.01M111.5 414.3h.01M111.7 415.0h.01M111.6 416.8h.01M112.0 418.5h.01M112.2 419.6h.01M104.0 422.3h.01M105.0 422.4h.01M105.9 422.3h.01M107.0 422.2h.01M108.0 422.3h.01M109.0 422.4h.01M110.0 422.3h.01M111.0 422.4h.01M112.1 422.3h.01M113.0 422.3h.01M114.0 422.3h.01M114.9 422.3h.01M115.9 422.3h.01M117.0 422.3h.01M118.0 422.3h.01M119.0 422.3h.01M120.0 422.3h.01M121.0 422.3h.01M122.0 422.3h.01M123.1 422.2h.01M124.0 422.2h.01M124.9 422.2h.01M126.0 422.3h.01M127.0 422.3h.01M128.0 422.3h.01M129.0 422.2h.01M130.1 422.4h.01M131.0 422.3h.01M132.0 422.2h.01M132.9 422.3h.01M134.0 422.2h.01M135.0 422.4h.01M136.0 422.3h.01M137.0 422.3h.01M138.0 422.3h.01M139.1 422.3h.01M140.0 422.3h.01M141.0 422.4h.01M142.0 422.3h.01M142.9 422.4h.01M144.0 422.4h.01M145.0 422.2h.01M146.0 422.4h.01M147.1 422.4h.01M148.0 422.4h.01M149.0 422.2h.01M150.0 422.4h.01M150.9 422.3h.01M152.0 422.3h.01M153.0 422.5h.01M154.0 422.3h.01M155.0 422.3h.01M155.9 422.3h.01M157.0 422.4h.01M157.9 422.4h.01M159.1 422.3h.01M160.0 422.4h.01M161.0 422.4h.01M162.0 422.2h.01M163.0 422.3h.01M164.0 422.2h.01M165.0 422.3h.01M165.9 422.4h.01M167.0 422.4h.01M168.0 422.2h.01M169.0 422.3h.01M170.0 422.4h.01M171.0 422.3h.01M172.0 422.3h.01M173.0 422.3h.01M174.0 422.2h.01M175.0 422.4h.01M176.0 422.3h.01M177.0 422.3h.01M178.0 422.2h.01M179.0 422.2h.01M180.0 422.3h.01M181.1 422.3h.01M181.9 422.3h.01M183.0 422.3h.01M184.1 422.4h.01M185.0 422.4h.01M185.9 422.2h.01M187.1 422.2h.01M188.0 422.4h.01M189.0 422.3h.01M190.0 422.4h.01M191.0 422.4h.01M191.9 422.3h.01M193.0 422.3h.01M194.0 422.3h.01M195.0 422.2h.01M196.0 422.2h.01M197.0 422.3h.01M198.0 422.4h.01M199.0 422.3h.01M200.0 422.3h.01M201.0 422.3h.01M201.9 422.2h.01M202.9 422.4h.01M204.0 422.1h.01M205.1 422.2h.01M206.0 422.3h.01M207.0 422.2h.01M208.0 422.3h.01M209.0 422.4h.01M210.0 422.2h.01M211.0 422.3h.01M212.0 422.2h.01M213.0 422.3h.01M214.0 422.3h.01M215.0 422.3h.01M216.0 422.4h.01M217.0 422.3h.01M218.0 422.4h.01M219.2 422.4h.01M220.0 422.2h.01M221.0 422.3h.01M222.0 422.3h.01M223.0 422.2h.01M223.9 422.4h.01M225.0 422.3h.01M226.0 422.3h.01M227.0 422.2h.01M228.1 422.3h.01M229.0 422.3h.01M230.0 422.3h.01M231.0 422.3h.01M231.9 422.1h.01M232.9 422.4h.01M234.0 422.2h.01M235.0 422.1h.01M236.0 422.2h.01M237.0 422.2h.01M238.0 422.3h.01M239.0 422.2h.01M239.9 422.3h.01M241.0 422.2h.01M242.1 422.5h.01M243.1 422.3h.01M244.0 422.5h.01M245.0 422.2h.01M246.1 422.4h.01M247.1 422.2h.01M247.9 422.3h.01M249.0 422.4h.01M250.0 422.2h.01M251.1 422.2h.01M252.0 422.2h.01M253.0 422.2h.01M254.0 422.2h.01M255.1 422.2h.01M256.0 422.2h.01M257.0 422.3h.01M258.0 422.3h.01M259.0 422.2h.01M260.0 422.3h.01M261.0 422.3h.01M262.0 422.3h.01M262.9 422.2h.01M264.0 422.4h.01M265.0 422.4h.01M265.9 422.4h.01M267.0 422.3h.01M268.0 422.5h.01M269.0 422.4h.01M270.0 422.3h.01M271.0 422.3h.01M272.0 422.4h.01M273.0 422.2h.01M273.9 422.3h.01M274.9 422.3h.01M276.0 422.2h.01M277.0 422.3h.01M278.0 422.2h.01M279.0 422.3h.01M280.0 422.1h.01M281.0 422.5h.01M282.0 422.4h.01M283.0 422.4h.01M284.0 422.3h.01M284.9 422.4h.01M286.0 422.4h.01M287.0 422.4h.01M288.0 422.4h.01M289.0 422.2h.01M290.0 422.3h.01M291.0 422.3h.01M292.0 422.2h.01M293.0 422.2h.01M294.0 422.3h.01M294.9 422.4h.01M296.0 422.2h.01M297.0 422.4h.01M298.0 422.4h.01M299.0 422.3h.01M300.0 422.3h.01M301.0 422.3h.01M302.0 422.4h.01M303.0 422.3h.01M304.0 422.2h.01M305.0 422.3h.01M306.0 422.1h.01M307.0 422.3h.01M308.0 422.4h.01M309.0 422.3h.01M310.0 422.4h.01M310.9 422.3h.01M312.0 422.4h.01M313.0 422.3h.01M313.9 422.2h.01M315.0 422.3h.01M316.0 422.3h.01M317.0 422.4h.01M318.0 422.4h.01M319.0 422.3h.01M320.1 422.2h.01M321.0 422.2h.01M322.0 422.3h.01M323.0 422.4h.01M324.1 422.3h.01M325.0 422.3h.01M326.0 422.2h.01M327.0 422.4h.01M328.0 422.3h.01M329.0 422.3h.01M330.0 422.3h.01M331.1 422.4h.01M331.9 422.3h.01M333.0 422.4h.01M334.0 422.4h.01M335.0 422.3h.01M336.0 422.4h.01M337.0 422.3h.01M338.0 422.3h.01M339.0 422.3h.01M339.9 422.3h.01M341.1 422.4h.01M342.0 422.3h.01M343.1 422.4h.01M344.0 422.4h.01M345.1 422.1h.01M346.0 422.4h.01M347.0 422.2h.01M348.0 422.4h.01M349.0 422.3h.01M350.0 422.4h.01M351.0 422.5h.01M352.1 422.2h.01M352.9 422.4h.01M354.0 422.4h.01M355.0 422.2h.01M356.0 422.5h.01M357.0 422.4h.01M358.1 422.4h.01M359.1 422.4h.01M360.0 422.7h.01M361.1 422.4h.01M362.1 422.3h.01M363.0 422.4h.01M364.0 422.4h.01M365.0 422.4h.01M366.0 422.4h.01M367.0 422.4h.01M368.0 422.5h.01M369.0 422.4h.01M370.1 422.3h.01M371.0 422.4h.01M371.9 422.4h.01M373.0 422.5h.01M374.0 422.5h.01M375.0 422.4h.01M376.0 422.5h.01M377.0 422.5h.01M378.1 422.7h.01M379.0 422.4h.01M380.0 422.5h.01M381.0 422.6h.01M382.0 422.4h.01M383.1 422.6h.01M383.9 422.6h.01M385.0 422.5h.01M386.0 422.6h.01M387.0 422.7h.01M388.0 422.7h.01M389.0 422.6h.01M390.0 422.7h.01M391.1 422.9h.01M392.0 422.6h.01M393.0 422.7h.01M394.0 422.8h.01M395.0 422.8h.01M396.0 422.8h.01M397.0 422.8h.01M398.0 422.9h.01M399.0 422.9h.01M400.0 422.8h.01M400.9 422.9h.01M402.0 422.9h.01M403.0 422.9h.01M404.0 422.9h.01M405.0 422.9h.01M406.0 423.0h.01M407.0 423.1h.01M408.1 423.2h.01M409.0 423.2h.01M410.0 423.0h.01M411.0 423.2h.01M412.0 423.1h.01M413.0 423.1h.01M414.0 423.3h.01M415.1 423.1h.01M416.0 423.3h.01M417.0 423.2h.01M418.0 423.2h.01M418.9 423.2h.01M419.9 423.3h.01M421.0 423.3h.01M422.0 423.4h.01M423.0 423.5h.01M424.0 423.3h.01M425.1 423.4h.01M426.0 423.4h.01M427.1 423.3h.01M428.1 423.3h.01M429.0 423.4h.01M430.0 423.4h.01M431.1 423.3h.01M432.0 423.4h.01M433.0 423.5h.01M434.0 423.4h.01M435.0 423.4h.01M436.0 423.6h.01M437.0 423.6h.01M438.0 423.4h.01M439.0 423.4h.01M440.0 423.5h.01M441.0 423.4h.01M442.0 423.5h.01M443.0 423.5h.01M444.1 423.6h.01M445.0 423.3h.01M446.0 423.4h.01M447.0 423.4h.01M448.0 423.6h.01M449.0 423.5h.01M450.0 423.4h.01M451.0 423.6h.01M452.0 423.6h.01M453.0 423.6h.01M454.0 423.6h.01M455.0 423.6h.01M456.0 423.7h.01M457.0 423.6h.01M457.9 423.7h.01M459.0 423.6h.01M460.0 423.6h.01M461.0 423.6h.01M462.0 423.7h.01M463.0 423.6h.01M464.0 423.6h.01M465.0 423.7h.01M466.0 423.7h.01M467.1 423.7h.01M468.0 423.6h.01M469.0 423.7h.01M470.1 423.6h.01M471.0 423.6h.01M471.9 423.6h.01M473.0 423.8h.01M474.0 423.8h.01M475.0 423.7h.01M476.0 423.6h.01M477.0 423.7h.01M478.0 423.7h.01M479.0 423.9h.01M480.0 423.6h.01M481.0 423.6h.01M482.0 423.8h.01M483.0 423.8h.01M484.0 423.8h.01M485.0 423.9h.01M486.0 424.0h.01M487.0 423.8h.01M487.9 423.8h.01M489.1 423.7h.01M490.0 423.8h.01M491.0 423.9h.01M492.0 423.8h.01M493.0 423.9h.01M494.0 423.9h.01M495.0 424.0h.01M496.0 423.9h.01M497.0 423.8h.01M498.0 423.8h.01M499.0 423.8h.01M499.9 423.8h.01M501.0 423.9h.01M502.0 424.0h.01M503.0 424.1h.01M504.0 423.9h.01M505.0 423.9h.01M506.0 423.8h.01M507.0 424.0h.01M507.9 424.0h.01M509.0 423.9h.01M510.0 424.0h.01M511.0 424.0h.01M512.0 423.8h.01M513.0 424.0h.01M514.1 424.0h.01M515.0 424.0h.01M515.9 424.0h.01M516.9 424.1h.01M518.1 424.1h.01M519.0 424.2h.01M520.0 423.9h.01M521.0 424.0h.01M522.0 424.1h.01M523.1 423.9h.01M524.0 424.0h.01M525.1 423.9h.01M526.0 424.2h.01M526.9 424.2h.01M528.0 424.1h.01M529.0 424.1h.01M530.0 424.1h.01M531.1 424.1h.01M532.0 424.2h.01M533.0 424.1h.01M534.0 424.2h.01M535.0 424.1h.01M536.0 424.1h.01M537.0 424.2h.01M538.0 424.1h.01M539.0 424.2h.01M540.0 424.1h.01M541.0 424.0h.01M542.0 424.2h.01M543.0 424.1h.01M544.0 424.3h.01M545.0 424.1h.01M546.0 424.0h.01M547.0 424.2h.01M548.0 424.2h.01M549.0 424.2h.01M550.0 424.1h.01M551.0 424.3h.01M552.0 424.1h.01M553.0 424.2h.01M554.0 424.2h.01" stroke="#ff0000" stroke-width="5.6" stroke-linecap="round"/>
</g>
<path d="M123.5 427.5v4.86M209.5 427.5v4.86M295.5 427.5v4.86M381.5 427.5v4.86M468.5 427.5v4.86M554.5 427.5v4.86M80.5 427.5h-4.86M80.5 383.5h-4.86M80.5 338.5h-4.86" stroke="#000" stroke-width="1.111" fill="none"/>
<path d="M80.5 318.5H576.5V427.5H80.5Z" stroke="#000" stroke-width="1.111" fill="none" stroke-linejoin="miter"/>
<text x="308.8" y="11.8" font-size="16.986" text-anchor="middle" fill="#ffa500">BSRN QC Tests: 2025-09-22</text>
<path d="M84.75 24.50h16.2" stroke="#ffff00" stroke-width="1.04" stroke-dasharray="3.85 1.67" fill="none"/>
<path d="M84.75 38.50h16.2" stroke="#0000ff" stroke-width="1.04" stroke-dasharray="3.85 1.67" fill="none"/>
<path d="M290.00 24.50h16.2" stroke="#008000" stroke-width="1.04" stroke-dasharray="3.85 1.67" fill="none"/>
<path d="M290.00 38.50h16.2" stroke="#00ffff" stroke-width="1.04" stroke-dasharray="3.85 1.67" fill="none"/>
<path d="M469.70 39.60h12.5" stroke="#ff0000" stroke-width="1.81" stroke-dasharray="1.81 2.98" fill="none"/>
<g style="filter:grayscale(1)"><text x="69.43" y="171.98" font-size="13.889" text-anchor="end" letter-spacing="-0.5">0</text><text x="69.43" y="116.98" font-size="13.889" text-anchor="end" letter-spacing="-0.5">1000</text><g transform="translate(25.49 112.55) rotate(-90)"><text x="0" y="-1.36" font-size="13.889" text-anchor="middle">Global[W/m<tspan font-size="9.722" dy="-5.32">2</tspan><tspan dy="5.32">]</tspan></text></g><text x="69.43" y="302.98" font-size="13.889" text-anchor="end" letter-spacing="-0.5">0</text><text x="69.43" y="263.98" font-size="13.889" text-anchor="end" letter-spacing="-0.5">500</text><text x="69.43" y="225.98" font-size="13.889" text-anchor="end" letter-spacing="-0.5">1000</text><g transform="translate(25.49 243.00) rotate(-90)"><text x="0" y="-1.36" font-size="13.889" text-anchor="middle">Direct[W/m<tspan font-size="9.722" dy="-5.32">2</tspan><tspan dy="5.32">]</tspan></text></g><text x="69.43" y="432.98" font-size="13.889" text-anchor="end" letter-spacing="-0.5">0</text><text x="69.43" y="388.98" font-size="13.889" text-anchor="end" letter-spacing="-0.5">500</text><text x="69.43" y="343.98" font-size="13.889" text-anchor="end" letter-spacing="-0.5">1000</text><g transform="translate(25.49 373.45) rotate(-90)"><text x="0" y="-1.36" font-size="13.889" text-anchor="middle">Diffuse[W/m<tspan font-size="9.722" dy="-5.32">2</tspan><tspan dy="5.32">]</tspan></text></g><text x="121.80" y="448.38" font-size="13.889" text-anchor="middle" letter-spacing="-0.5">30</text><text x="208.00" y="448.38" font-size="13.889" text-anchor="middle" letter-spacing="-0.5">40</text><text x="294.20" y="448.38" font-size="13.889" text-anchor="middle" letter-spacing="-0.5">50</text><text x="380.40" y="448.38" font-size="13.889" text-anchor="middle" letter-spacing="-0.5">60</text><text x="466.60" y="448.38" font-size="13.889" text-anchor="middle" letter-spacing="-0.5">70</text><text x="552.80" y="448.38" font-size="13.889" text-anchor="middle" letter-spacing="-0.5">80</text><text letter-spacing="-0.4" x="328.6" y="467.37" font-size="13.889" text-anchor="middle">SZA</text><text x="102.00" y="29.30" font-size="11.569">Physically possible minimum</text><text x="102.00" y="43.00" font-size="11.569">Physically possible maximum</text><text x="307.00" y="29.30" font-size="11.569">Extremely rare minimum</text><text x="307.00" y="43.00" font-size="11.569">Extremely rare maximum</text><text x="486.90" y="43.00" font-size="11.569">Experimental</text></g>
</svg></div></body></html>
